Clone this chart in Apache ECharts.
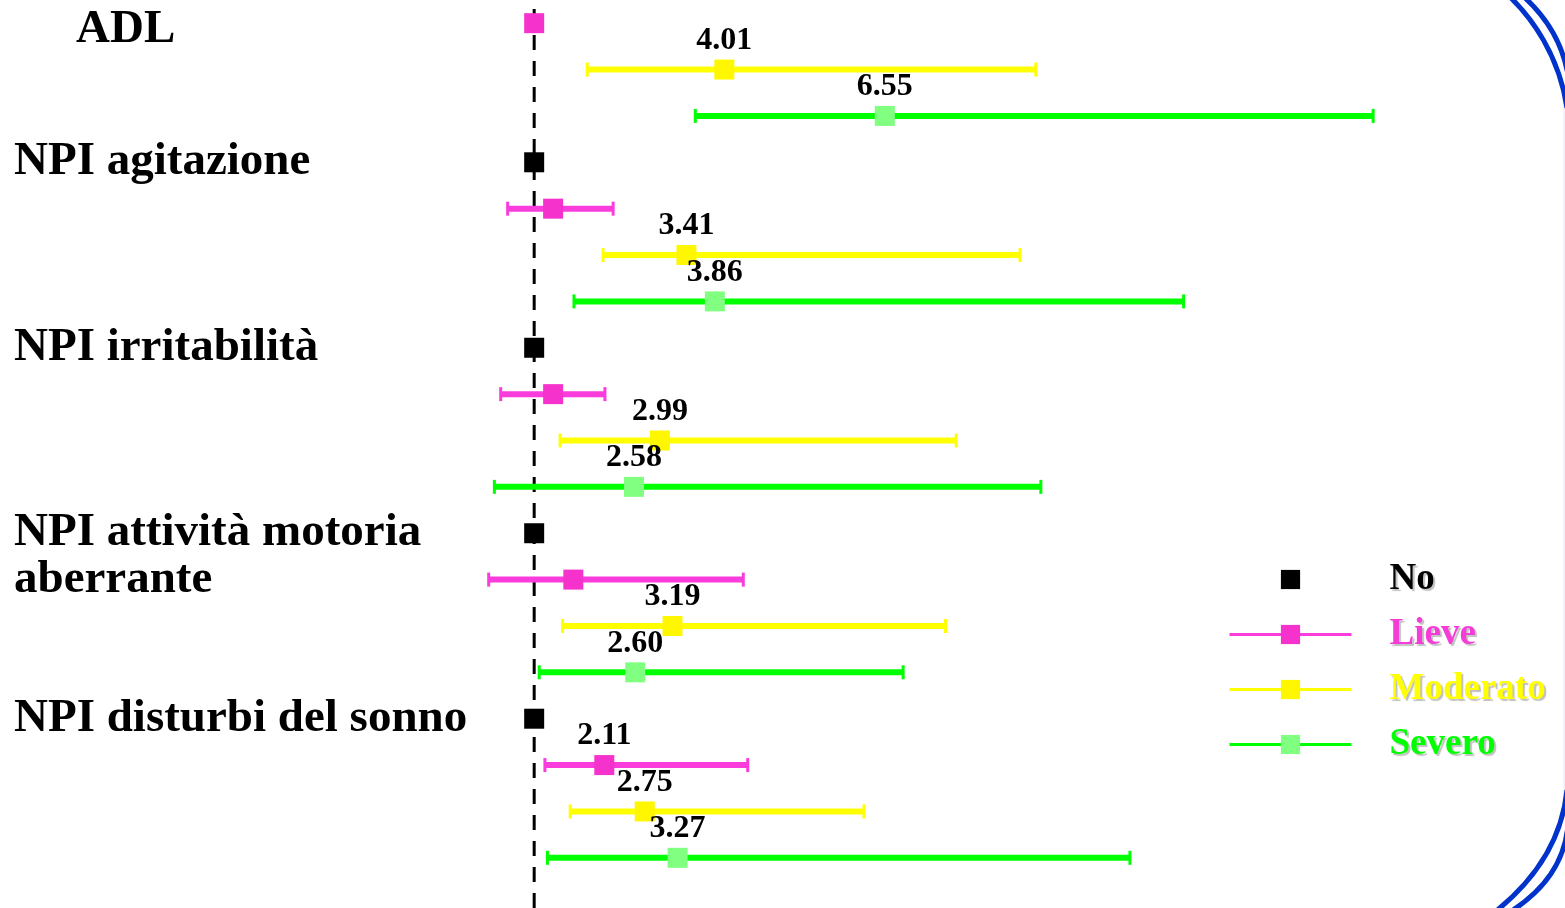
<!DOCTYPE html>
<html>
<head>
<meta charset="utf-8">
<script src="https://cdn.jsdelivr.net/npm/echarts@6/dist/echarts.min.js"></script>
<style>
  html, body { margin: 0; padding: 0; background: #ffffff; }
  #chart { width: 1565px; height: 908px; }
</style>
</head>
<body>
<div id="chart"></div>
<script>
// ---------------- data ----------------
const groups = ['ADL', 'NPI agitazione', 'NPI irritabilità', 'NPI attività motoria\naberrante', 'NPI disturbi del sonno'];
const levels = ['No', 'Lieve', 'Moderato', 'Severo'];

// point estimates (null = not shown) per group
const noEst        = [null, 1.00, 1.00, 1.00, 1.00];
const lieveEst     = [1.00, 1.30, 1.30, 1.62, 2.11];
const lieveLow     = [null, 0.58, 0.47, 0.28, 1.17];
const lieveHigh    = [null, 2.25, 2.12, 4.31, 4.38];
const lieveShowVal = [false, false, false, false, true];
const moderatoEst  = [4.01, 3.41, 2.99, 3.19, 2.75];
const moderatoLow  = [1.84, 2.09, 1.41, 1.45, 1.57];
const moderatoHigh = [8.94, 8.69, 7.68, 7.51, 6.22];
const severoEst    = [6.55, 3.86, 2.58, 2.60, 3.27];
const severoLow    = [3.55, 1.63, 0.37, 1.08, 1.21];
const severoHigh   = [14.28, 11.28, 9.02, 6.84, 10.43];
const referenceValue = 1;

// ---------------- build rows ----------------
const est  = { No: noEst, Lieve: lieveEst, Moderato: moderatoEst, Severo: severoEst };
const low  = { No: [], Lieve: lieveLow, Moderato: moderatoLow, Severo: severoLow };
const high = { No: [], Lieve: lieveHigh, Moderato: moderatoHigh, Severo: severoHigh };
const showVal = { No: [false,false,false,false,false], Lieve: lieveShowVal,
                  Moderato: [true,true,true,true,true], Severo: [true,true,true,true,true] };

const rows = [];        // category names
const rowLabel = [];    // axis label text per row
const pts = { No: [], Lieve: [], Moderato: [], Severo: [] };
const cis = { No: [], Lieve: [], Moderato: [], Severo: [] };
groups.forEach((g, gi) => {
  let k = 0;
  const lines = g.split('\n');
  levels.forEach(lv => {
    const v = est[lv][gi];
    if (v == null) return;
    const r = rows.length;
    rows.push(g + '|' + lv);
    rowLabel.push(lines[k] !== undefined ? lines[k] : '');
    k++;
    pts[lv].push({ value: [v, r], label: { show: showVal[lv][gi] } });
    if (low[lv][gi] != null) cis[lv].push([r, low[lv][gi], high[lv][gi]]);
  });
});

const colors = {
  No:       { line: '#000000', sym: '#000000', text: '#000000' },
  Lieve:    { line: '#FA3CDC', sym: '#F532CC', text: '#F53CD8' },
  Moderato: { line: '#FFFF00', sym: '#FFF700', text: '#FFFF00' },
  Severo:   { line: '#00FF00', sym: '#80FF80', text: '#00FF00' }
};

const serif = "'Liberation Serif', 'DejaVu Serif', serif";

function ciSeries(lv) {
  const c = colors[lv].line;
  return {
    type: 'custom',
    xAxisIndex: 0, yAxisIndex: 0,
    silent: true, z: 2,
    encode: { x: [1, 2], y: 0 },
    data: cis[lv],
    renderItem: (params, api) => {
      const r = api.value(0);
      const a = api.coord([api.value(1), r]);
      const b = api.coord([api.value(2), r]);
      const h = 7;
      return {
        type: 'group',
        children: [
          { type: 'line', shape: { x1: a[0], y1: a[1], x2: b[0], y2: b[1] }, style: { stroke: c, lineWidth: 6 } },
          { type: 'line', shape: { x1: a[0], y1: a[1] - h, x2: a[0], y2: a[1] + h }, style: { stroke: c, lineWidth: 3 } },
          { type: 'line', shape: { x1: b[0], y1: b[1] - h, x2: b[0], y2: b[1] + h }, style: { stroke: c, lineWidth: 3 } }
        ]
      };
    }
  };
}

function pointSeries(lv) {
  return {
    name: lv,
    type: 'line',
    xAxisIndex: 0, yAxisIndex: 0,
    z: 5,
    data: pts[lv],
    symbol: 'rect',
    symbolSize: 20,
    showSymbol: true,
    lineStyle: { width: 0, color: colors[lv].line },
    itemStyle: { color: colors[lv].sym },
    emphasis: { disabled: true },
    label: {
      position: 'top', distance: 3,
      color: '#000', fontFamily: serif, fontWeight: 'bold', fontSize: 32,
      formatter: p => p.value[0].toFixed(2)
    }
  };
}

const chart = echarts.init(document.getElementById('chart'));
chart.setOption({
  animation: false,
  backgroundColor: '#ffffff',
  grid: [
    { left: 471, right: 20, top: 0, bottom: 27 },
    { left: 471, right: 20, top: 0, bottom: 0 }
  ],
  xAxis: [
    { type: 'value', gridIndex: 0, min: 0, max: 17, show: false },
    { type: 'value', gridIndex: 1, min: 0, max: 17, show: false }
  ],
  yAxis: [
    {
      type: 'category', gridIndex: 0, data: rows, inverse: true,
      axisLine: { show: false }, axisTick: { show: false }, splitLine: { show: false },
      axisLabel: {
        interval: 0, align: 'left', margin: 457,
        fontFamily: serif, fontWeight: 'bold', fontSize: 47, color: '#000',
        formatter: (v, i) => rowLabel[i] === 'ADL' ? '{adl|ADL}' : rowLabel[i],
        rich: { adl: { padding: [14, 0, 0, 62], fontFamily: serif, fontWeight: 'bold', fontSize: 47, color: '#000' } }
      }
    },
    { type: 'value', gridIndex: 1, min: 0, max: 1, show: false }
  ],
  legend: {
    orient: 'vertical',
    left: 1223, top: 556,
    itemWidth: 122, itemHeight: 24, itemGap: 18,
    selectedMode: false,
    lineStyle: { width: 3 },
    textStyle: {
      fontFamily: serif, fontWeight: 'bold', fontSize: 37,
      padding: [0, 0, 0, 33],
      textShadowColor: 'rgba(0,0,0,0.25)', textShadowOffsetX: 2, textShadowOffsetY: 2, textShadowBlur: 1
    },
    data: levels.map(lv => ({
      name: lv,
      lineStyle: lv === 'No' ? { width: 0 } : { width: 3 },
      textStyle: { color: colors[lv].text }
    }))
  },
  graphic: [
    { type: 'line', silent: true, shape: { x1: 1564, y1: 90, x2: 1564, y2: 810 }, style: { stroke: '#E4E4F4', lineWidth: 1 } },
    { type: 'bezierCurve', silent: true, shape: { x1: 1509, y1: -4, cpx1: 1532, cpy1: 18, cpx2: 1559, cpy2: 55, x2: 1567, y2: 108 }, style: { stroke: '#0033CC', lineWidth: 5, fill: null } },
    { type: 'bezierCurve', silent: true, shape: { x1: 1523, y1: -4, cpx1: 1543, cpy1: 14, cpx2: 1562, cpy2: 40, x2: 1568, y2: 75 }, style: { stroke: '#0033CC', lineWidth: 5, fill: null } },
    { type: 'bezierCurve', silent: true, shape: { x1: 1567, y1: 790, cpx1: 1562, cpy1: 840, cpx2: 1535, cpy2: 880, x2: 1495, y2: 912 }, style: { stroke: '#0033CC', lineWidth: 5, fill: null } },
    { type: 'bezierCurve', silent: true, shape: { x1: 1568, y1: 825, cpx1: 1565, cpy1: 860, cpx2: 1545, cpy2: 890, x2: 1510, y2: 912 }, style: { stroke: '#0033CC', lineWidth: 5, fill: null } }
  ],
  series: [
    {
      type: 'line', xAxisIndex: 1, yAxisIndex: 1, silent: true, z: 1,
      symbol: 'none',
      data: [[referenceValue, 0], [referenceValue, 1]],
      lineStyle: { color: '#000', width: 3, type: [15, 11] }
    },
    ciSeries('Lieve'), ciSeries('Moderato'), ciSeries('Severo'),
    pointSeries('No'), pointSeries('Lieve'), pointSeries('Moderato'), pointSeries('Severo')
  ]
});
</script>
</body>
</html>
